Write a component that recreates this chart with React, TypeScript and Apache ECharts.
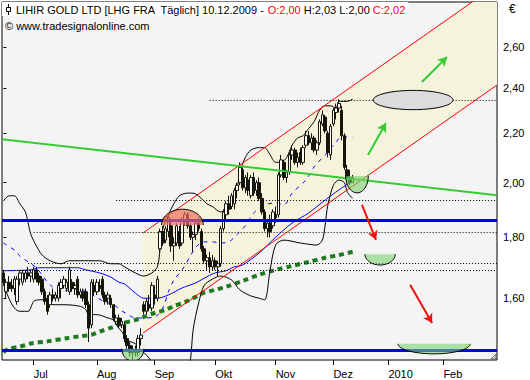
import { useEffect, useRef } from 'react';
import * as echarts from 'echarts';

// ---------- categories (trading days, Frankfurt) ----------
const START = '2009-06-16';
const HOLIDAYS = ['2009-12-24', '2009-12-25', '2009-12-31', '2010-01-01'];
const N_DAYS = 180;
const MONTH_NAMES = ['2010', 'Feb', 'Mär', 'Apr', 'Mai', 'Jun', 'Jul', 'Aug', 'Sep', 'Okt', 'Nov', 'Dez'];

function buildDates(): string[] {
  const out: string[] = [];
  const d = new Date(START + 'T00:00:00Z');
  while (out.length < N_DAYS) {
    const wd = d.getUTCDay();
    const s = d.toISOString().slice(0, 10);
    if (wd !== 0 && wd !== 6 && !HOLIDAYS.includes(s)) out.push(s);
    d.setUTCDate(d.getUTCDate() + 1);
  }
  return out;
}
const dates = buildDates();
const monthStarts = dates
  .map((d, i) => (i > 0 && d.slice(5, 7) !== dates[i - 1].slice(5, 7) ? i : -1))
  .filter((i) => i >= 0);

// ---------- OHLC (16.06.2009 - 10.12.2009) ----------
const open = [
  1.68, 1.62, 1.65, 1.64, 1.63, 1.59, 1.66, 1.65, 1.66, 1.68, 1.67,
  1.66, 1.69, 1.67, 1.66, 1.62, 1.60, 1.58, 1.61, 1.60, 1.60, 1.63, 1.64, 1.63, 1.62, 1.65, 1.63, 1.66, 1.61, 1.62, 1.62, 1.58, 1.52, 1.64,
  1.62, 1.64, 1.66, 1.61, 1.60, 1.60, 1.58, 1.53, 1.54, 1.52, 1.52, 1.48, 1.46, 1.44, 1.45, 1.44, 1.48, 1.58, 1.56, 1.58, 1.57,
  1.61, 1.60, 1.76, 1.82, 1.79, 1.82, 1.84, 1.77, 1.78, 1.82, 1.78, 1.86, 1.88, 1.84, 1.80, 1.81, 1.85, 1.82, 1.76, 1.72, 1.73, 1.70,
  1.72, 1.70, 1.71, 1.83, 1.88, 1.92, 1.91, 1.92, 1.97, 2.00, 2.05, 1.98, 2.01, 1.95, 2.02, 1.97, 2.00, 1.94, 1.89, 1.83, 1.85, 1.84,
  1.88, 1.88, 2.03, 2.08, 2.02, 2.04, 2.11, 2.13, 2.08, 2.12, 2.08, 2.15, 2.19, 2.16, 2.18, 2.13, 2.16, 2.24, 2.27, 2.20, 2.11,
  2.24, 2.29, 2.31, 2.30, 2.19, 2.05, 2.02, 2.00,
];
const high = [
  1.69, 1.66, 1.67, 1.66, 1.67, 1.67, 1.69, 1.69, 1.69, 1.70, 1.69,
  1.70, 1.70, 1.68, 1.67, 1.63, 1.61, 1.62, 1.63, 1.62, 1.65, 1.66, 1.67, 1.66, 1.70, 1.66, 1.65, 1.67, 1.63, 1.63, 1.63, 1.59, 1.66, 1.66,
  1.66, 1.66, 1.67, 1.62, 1.62, 1.61, 1.58, 1.55, 1.55, 1.54, 1.53, 1.49, 1.47, 1.46, 1.46, 1.49, 1.51, 1.59, 1.60, 1.61, 1.65,
  1.64, 1.67, 1.83, 1.84, 1.84, 1.88, 1.86, 1.80, 1.85, 1.84, 1.87, 1.89, 1.89, 1.85, 1.82, 1.86, 1.87, 1.83, 1.77, 1.74, 1.75, 1.74,
  1.73, 1.72, 1.84, 1.90, 1.93, 1.95, 1.96, 1.98, 2.00, 2.08, 2.06, 2.03, 2.04, 2.03, 2.04, 2.01, 2.02, 1.96, 1.90, 1.86, 1.88, 1.90,
  1.91, 2.04, 2.11, 2.09, 2.05, 2.12, 2.15, 2.14, 2.12, 2.14, 2.15, 2.21, 2.21, 2.20, 2.19, 2.17, 2.26, 2.30, 2.28, 2.21, 2.24,
  2.31, 2.33, 2.35, 2.32, 2.20, 2.07, 2.05, 2.03,
];
const low = [
  1.64, 1.60, 1.62, 1.62, 1.61, 1.58, 1.64, 1.64, 1.65, 1.66, 1.65,
  1.65, 1.65, 1.64, 1.61, 1.58, 1.55, 1.57, 1.59, 1.59, 1.59, 1.60, 1.63, 1.62, 1.61, 1.62, 1.61, 1.60, 1.60, 1.59, 1.57, 1.47, 1.51, 1.61,
  1.61, 1.62, 1.60, 1.58, 1.58, 1.57, 1.53, 1.52, 1.51, 1.51, 1.47, 1.45, 1.43, 1.42, 1.43, 1.43, 1.46, 1.55, 1.55, 1.56, 1.56,
  1.58, 1.59, 1.75, 1.77, 1.78, 1.80, 1.75, 1.72, 1.77, 1.76, 1.77, 1.84, 1.83, 1.79, 1.75, 1.79, 1.82, 1.75, 1.71, 1.69, 1.68, 1.69,
  1.69, 1.67, 1.70, 1.82, 1.86, 1.88, 1.90, 1.90, 1.94, 1.99, 1.97, 1.96, 1.95, 1.94, 1.95, 1.95, 1.93, 1.88, 1.82, 1.80, 1.80, 1.83,
  1.85, 1.87, 2.02, 2.01, 2.00, 2.03, 2.09, 2.07, 2.06, 2.07, 2.07, 2.14, 2.15, 2.13, 2.12, 2.11, 2.15, 2.23, 2.20, 2.10, 2.09,
  2.23, 2.26, 2.29, 2.17, 2.05, 2.00, 1.99, 2.00,
];
const close = [
  1.65, 1.65, 1.63, 1.63, 1.66, 1.66, 1.68, 1.68, 1.68, 1.67, 1.68,
  1.69, 1.66, 1.65, 1.62, 1.59, 1.56, 1.61, 1.60, 1.61, 1.64, 1.65, 1.66, 1.65, 1.69, 1.63, 1.64, 1.61, 1.62, 1.60, 1.58, 1.51, 1.65, 1.62,
  1.65, 1.63, 1.61, 1.59, 1.61, 1.58, 1.54, 1.54, 1.52, 1.53, 1.48, 1.46, 1.44, 1.45, 1.44, 1.48, 1.49, 1.56, 1.59, 1.57, 1.64,
  1.60, 1.66, 1.82, 1.78, 1.83, 1.87, 1.77, 1.78, 1.84, 1.77, 1.86, 1.88, 1.84, 1.80, 1.81, 1.85, 1.83, 1.76, 1.72, 1.73, 1.70, 1.72,
  1.70, 1.71, 1.83, 1.89, 1.92, 1.90, 1.95, 1.97, 1.99, 2.06, 1.98, 2.02, 1.97, 2.02, 1.96, 2.00, 1.94, 1.89, 1.83, 1.85, 1.82, 1.89,
  1.87, 2.03, 2.09, 2.02, 2.04, 2.11, 2.13, 2.08, 2.10, 2.08, 2.14, 2.19, 2.16, 2.18, 2.13, 2.16, 2.25, 2.28, 2.21, 2.12, 2.23,
  2.30, 2.31, 2.33, 2.19, 2.06, 2.02, 2.00, 2.02,
];

// ---------- indicators: [day index, price] ----------
const bbUpper = [
  [0, 1.93], [2, 1.95], [4, 1.95], [6, 1.92], [8, 1.89], [9, 1.85], [10, 1.81], [12, 1.77], [14, 1.74], [17, 1.72],
  [21, 1.71], [24, 1.72], [28, 1.72], [31, 1.72], [35, 1.72], [39, 1.71], [42, 1.71], [44, 1.70], [48, 1.68], [51, 1.67],
  [54, 1.68], [56, 1.70], [57, 1.76], [58, 1.83], [60, 1.88], [62, 1.92], [64, 1.95], [67, 1.96], [69, 1.96], [72, 1.94],
  [74, 1.92], [76, 1.91], [79, 1.89], [81, 1.90], [83, 1.92], [85, 1.98], [86, 2.04], [88, 2.10], [90, 2.13], [93, 2.14],
  [95, 2.14], [97, 2.11], [99, 2.08], [101, 2.08], [103, 2.10], [105, 2.15], [107, 2.18], [109, 2.19], [111, 2.22], [113, 2.25],
  [115, 2.30], [117, 2.32], [119, 2.32], [121, 2.31], [122, 2.34], [125, 2.34], [127, 2.35],
];
const bbLower = [
  [0, 1.645], [2, 1.60], [4, 1.57], [6, 1.56], [9, 1.56], [11, 1.59], [13, 1.595], [16, 1.595], [18, 1.58], [22, 1.58],
  [28, 1.575], [30, 1.565], [31, 1.55], [34, 1.55], [38, 1.54], [40, 1.534], [42, 1.51], [44, 1.49], [45, 1.476], [48, 1.465],
  [50, 1.448], [53, 1.425], [57, 1.37], [66, 1.36], [68, 1.42], [69, 1.505], [71, 1.585], [73, 1.64], [76, 1.66], [79, 1.67],
  [83, 1.657], [86, 1.626], [90, 1.607], [93, 1.60], [95, 1.595], [97, 1.69], [99, 1.773], [102, 1.79], [108, 1.78], [114, 1.773],
  [116, 1.79], [117, 1.843], [118, 1.916], [120, 1.99], [122, 2.01], [124, 2.00], [125, 1.965], [127, 1.94],
];
const sma50 = [
  [0, 1.687], [10, 1.69], [13, 1.697], [23, 1.697], [27, 1.697], [30, 1.69], [35, 1.68], [39, 1.667], [42, 1.65], [44, 1.645],
  [48, 1.616], [51, 1.60], [56, 1.60], [60, 1.61], [65, 1.632], [70, 1.648], [73, 1.663], [77, 1.68], [81, 1.687], [84, 1.70],
  [87, 1.706], [93, 1.746], [99, 1.80], [105, 1.85], [111, 1.886], [117, 1.934], [122, 1.972], [127, 2.007],
];
const sma20 = [
  [0, 1.78], [4, 1.756], [6, 1.736], [9, 1.716], [12, 1.697], [14, 1.674], [17, 1.642], [21, 1.62], [24, 1.626], [28, 1.63],
  [30, 1.62], [33, 1.607], [37, 1.588], [40, 1.582], [42, 1.567], [45, 1.552], [48, 1.54], [50, 1.54], [55, 1.543], [58, 1.57],
  [60, 1.62], [62, 1.657], [65, 1.69], [68, 1.736], [70, 1.766], [73, 1.784], [76, 1.784], [79, 1.78], [82, 1.784], [85, 1.81],
  [88, 1.84], [91, 1.886], [95, 1.916], [99, 1.923], [102, 1.916], [105, 1.96], [110, 2.01], [113, 2.062], [117, 2.11],
  [121, 2.164], [123, 2.186], [127, 2.18],
];
const sma200 = [
  [0, 1.442], [2, 1.451], [6, 1.457], [10, 1.466], [16, 1.472], [23, 1.481], [28, 1.487], [32, 1.491], [35, 1.50], [39, 1.511],
  [41, 1.517], [44, 1.526], [48, 1.534], [51, 1.543], [55, 1.555], [59, 1.564], [62, 1.576], [66, 1.588], [70, 1.604], [73, 1.617],
  [77, 1.626], [81, 1.636], [87, 1.654], [93, 1.674], [99, 1.69], [105, 1.703], [111, 1.716], [117, 1.73], [122, 1.739], [127, 1.75],
];

// ---------- drawn tools: [day index, price] ----------
const channelUpper = [[50.8, 1.815], [179.5, 2.932]];
const channelLower = [[50.8, 1.496], [179.5, 2.415]];
const trendLine = [[-0.5, 2.175], [179.5, 1.952]];
const blueLevels = [1.868, 1.451];
const dottedLevels = [[75, 2.346], [41, 1.934], [11, 1.818], [9, 1.713], [-0.5, 1.69]]; // [start index, price]
const greenArrows = [[152.2, 2.429, 161.3, 2.549], [132.6, 2.11, 139.1, 2.244]];
const redArrows = [[130.4, 1.916, 135.5, 1.791], [147.9, 1.642, 155.9, 1.525]];
// [centre index, centre price, half width in days, edge price]
const redDomes = [[65.1, 1.843, 7.6, 1.90]];
const greenBowls = [[128.6, 2.026, 4.1, 1.961], [137.0, 1.742, 5.5, 1.706], [156.6, 1.465, 13.1, 1.437], [47.1, 1.451, 4.0, 1.417]];
const greyEllipses = [[149.0, 2.346, 14.5, 2.39]];
const yTicks = [1.6, 1.8, 2.0, 2.2, 2.4, 2.6];

const L = Math.log;
const FONT = '"Liberation Sans", Arial, sans-serif';

const toLn = (pts: number[][]) => pts.map(([x, p]) => [x, L(p)]);

function halfEllipse(dir: number, fill: string) {
  return (params: any, api: any) => {
    const cx = api.value(0);
    const cy = api.value(1);
    const hw = api.value(2);
    const ey = api.value(3);
    const c = api.coord([cx, cy]);
    const e = api.coord([cx + hw, ey]);
    const rx = Math.abs(e[0] - c[0]);
    const ry = Math.abs(e[1] - c[1]);
    const pts: number[][] = [];
    const n = dir === 0 ? 72 : 36;
    const span = dir === 0 ? 2 * Math.PI : Math.PI;
    for (let k = 0; k <= n; k++) {
      const a = (span * k) / n;
      pts.push([c[0] - rx * Math.cos(a), c[1] + (dir === 0 ? 1 : dir) * ry * Math.sin(a)]);
    }
    return {
      type: 'group',
      children: [
        { type: 'polygon', shape: { points: pts }, style: { fill, stroke: 'none' } },
        { type: 'polyline', shape: { points: pts }, style: { fill: 'none', stroke: '#000', lineWidth: 1 } },
      ],
    };
  };
}

function buildOption(): any {
  const candles = close.map((c, i) => [i, L(open[i]), L(c), L(low[i]), L(high[i])]);
  const shapeData = (arr: number[][]) => arr.map(([x, p, hw, e]) => [x, L(p), hw, L(e)]);
  const arrowLines = (arr: number[][]) =>
    arr.map(([x1, p1, x2, p2]) => [{ coord: [x1, L(p1)] }, { coord: [x2, L(p2)] }]);
  const lineCommon = { showSymbol: false, symbol: 'none', clip: true, silent: true, animation: false };

  return {
    animation: false,
    backgroundColor: '#ffffff',
    title: {
      text: '{n|LIHIR GOLD LTD [LHG FRA  Täglich] 10.12.2009 - }{r|O:2,00}{n| H:2,03 L:2,00 }{r|C:2,02}',
      left: 2,
      top: 2,
      padding: [2, 3, 1, 14],
      backgroundColor: '#ffffff',
      textStyle: {
        fontSize: 11,
        fontFamily: FONT,
        fontWeight: 'normal',
        rich: {
          n: { color: '#000', fontSize: 11, fontFamily: FONT },
          r: { color: '#ff0000', fontSize: 11, fontFamily: FONT },
        },
      },
    },
    graphic: [
      { type: 'line', shape: { x1: 8.5, y1: 4, x2: 8.5, y2: 15 }, style: { stroke: '#000', lineWidth: 1 }, z: 100 },
      { type: 'rect', shape: { x: 6.5, y: 7.5, width: 4, height: 4 }, style: { fill: '#fff', stroke: '#000', lineWidth: 1 }, z: 101 },
      { type: 'text', left: 5, top: 20, style: { text: '© www.tradesignalonline.com', fill: '#000', font: '11px ' + FONT }, z: 100 },
      { type: 'text', left: 509, top: 3, style: { text: '€', fill: '#000', font: '12px ' + FONT }, z: 100 },
      { type: 'polygon', shape: { points: [[496, 354], [496, 359], [491, 359]] }, style: { fill: '#ddd', stroke: '#666', lineWidth: 1 }, z: 100 },
    ],
    grid: {
      left: 2, right: 33, top: 2, bottom: 20,
      show: true, backgroundColor: '#f4f4f4', borderColor: '#000', borderWidth: 1,
    },
    xAxis: {
      type: 'value',
      min: -0.5,
      max: N_DAYS - 0.5,
      axisLine: { show: false },
      splitLine: { show: false },
      axisTick: { show: true, customValues: monthStarts, length: 5, lineStyle: { color: '#000' } },
      axisLabel: {
        customValues: monthStarts,
        formatter: (v: number) => MONTH_NAMES[new Date(dates[Math.round(v)] + 'T00:00:00Z').getUTCMonth()],
        align: 'left',
        margin: 8,
        color: '#000',
        fontSize: 11,
        fontFamily: FONT,
      },
    },
    yAxis: {
      type: 'value',
      position: 'right',
      min: L(1.42),
      max: L(2.835),
      offset: 2,
      axisLine: { show: false },
      splitLine: { show: false },
      axisTick: { show: true, customValues: yTicks.map(L), length: 3, lineStyle: { color: '#000' } },
      axisLabel: {
        customValues: yTicks.map(L),
        formatter: (v: number) => Math.exp(v).toFixed(2).replace('.', ','),
        margin: 4,
        color: '#000',
        fontSize: 11,
        fontFamily: FONT,
      },
    },
    series: [
      {
        type: 'custom',
        name: 'channelFill',
        clip: true,
        silent: true,
        z: 1,
        encode: { x: 0, y: 1 },
        data: [[channelUpper[0][0], L(channelUpper[0][1]), L(channelLower[0][1]), channelUpper[1][0], L(channelUpper[1][1]), L(channelLower[1][1])]],
        renderItem: (params: any, api: any) => {
          const x1 = api.value(0), u1 = api.value(1), l1 = api.value(2);
          const x2 = api.value(3), u2 = api.value(4), l2 = api.value(5);
          return {
            type: 'polygon',
            shape: { points: [api.coord([x1, u1]), api.coord([x2, u2]), api.coord([x2, l2]), api.coord([x1, l1])] },
            style: { fill: '#f5f3dc', stroke: 'none' },
          };
        },
      },
      { ...lineCommon, type: 'line', name: 'sma200', z: 2, data: toLn(sma200), smooth: 0.3,
        lineStyle: { color: '#1f7a1f', width: 4, type: [5, 4] } },
      { ...lineCommon, type: 'line', name: 'bbUpper', z: 2, data: toLn(bbUpper), smooth: 0.3,
        lineStyle: { color: '#000', width: 1 } },
      { ...lineCommon, type: 'line', name: 'bbLower', z: 2, data: toLn(bbLower), smooth: 0.3,
        lineStyle: { color: '#000', width: 1 } },
      { ...lineCommon, type: 'line', name: 'sma50', z: 2, data: toLn(sma50), smooth: 0.3,
        lineStyle: { color: '#0000ff', width: 1 } },
      { ...lineCommon, type: 'line', name: 'sma20', z: 2, data: toLn(sma20), smooth: 0.3,
        lineStyle: { color: '#0000ff', width: 1, type: [4, 5] } },
      {
        type: 'candlestick', name: 'LHG', z: 3, silent: true,
        data: candles,
        encode: { x: 0, y: [1, 2, 3, 4] },
        barWidth: 3,
        itemStyle: { color: '#ffffff', color0: '#15150a', borderColor: '#15150a', borderColor0: '#15150a', borderWidth: 1 },
      },
      {
        type: 'line', name: 'blueLevels', data: [], z: 4, silent: true,
        markLine: {
          silent: true, symbol: 'none', label: { show: false }, animation: false,
          lineStyle: { color: '#0000f0', width: 3, type: 'solid' },
          emphasis: { disabled: true },
          data: blueLevels.map((p) => ({ yAxis: L(p) })),
        },
      },
      { ...lineCommon, type: 'line', name: 'chUp', z: 4, data: toLn(channelUpper), lineStyle: { color: '#ff0000', width: 1 } },
      { ...lineCommon, type: 'line', name: 'chLow', z: 4, data: toLn(channelLower), lineStyle: { color: '#ff0000', width: 1 } },
      { ...lineCommon, type: 'line', name: 'trend', z: 4, data: toLn(trendLine), lineStyle: { color: '#33cc33', width: 2 } },
      { type: 'custom', name: 'domes', clip: true, silent: true, z: 5, encode: { x: 0, y: 1 },
        data: shapeData(redDomes), renderItem: halfEllipse(-1, 'rgba(240,110,90,0.7)') },
      { type: 'custom', name: 'bowls', clip: true, silent: true, z: 5, encode: { x: 0, y: 1 },
        data: shapeData(greenBowls), renderItem: halfEllipse(1, 'rgba(120,210,110,0.6)') },
      { type: 'custom', name: 'ellipses', clip: true, silent: true, z: 5, encode: { x: 0, y: 1 },
        data: shapeData(greyEllipses), renderItem: halfEllipse(0, '#dcdcdc') },
      {
        type: 'line', name: 'dotted', data: [], z: 6, silent: true,
        markLine: {
          silent: true, symbol: 'none', label: { show: false }, animation: false,
          lineStyle: { color: '#000', width: 1, type: [1, 2] },
          emphasis: { disabled: true },
          data: dottedLevels.map(([s, p]) => [{ coord: [s, L(p)] }, { coord: [N_DAYS - 0.5, L(p)] }]),
        },
      },
      {
        type: 'line', name: 'greenArrows', data: [], z: 6, silent: true,
        markLine: {
          silent: true, symbol: ['none', 'arrow'], symbolSize: [8, 9], label: { show: false }, animation: false,
          lineStyle: { color: '#33cc33', width: 2, type: 'solid' },
          itemStyle: { color: '#33cc33' },
          emphasis: { disabled: true },
          data: arrowLines(greenArrows),
        },
      },
      {
        type: 'line', name: 'redArrows', data: [], z: 6, silent: true,
        markLine: {
          silent: true, symbol: ['none', 'arrow'], symbolSize: [8, 9], label: { show: false }, animation: false,
          lineStyle: { color: '#ee1111', width: 2, type: 'solid' },
          itemStyle: { color: '#ee1111' },
          emphasis: { disabled: true },
          data: arrowLines(redArrows),
        },
      },
    ],
  };
}

export default function App() {
  const ref = useRef<HTMLDivElement>(null);
  useEffect(() => {
    document.body.style.margin = '0';
    const chart = echarts.init(ref.current as HTMLDivElement, null, { renderer: 'svg' });
    chart.setOption(buildOption());
    return () => chart.dispose();
  }, []);
  return <div ref={ref} style={{ width: 530, height: 380, background: '#fff' }} />;
}
